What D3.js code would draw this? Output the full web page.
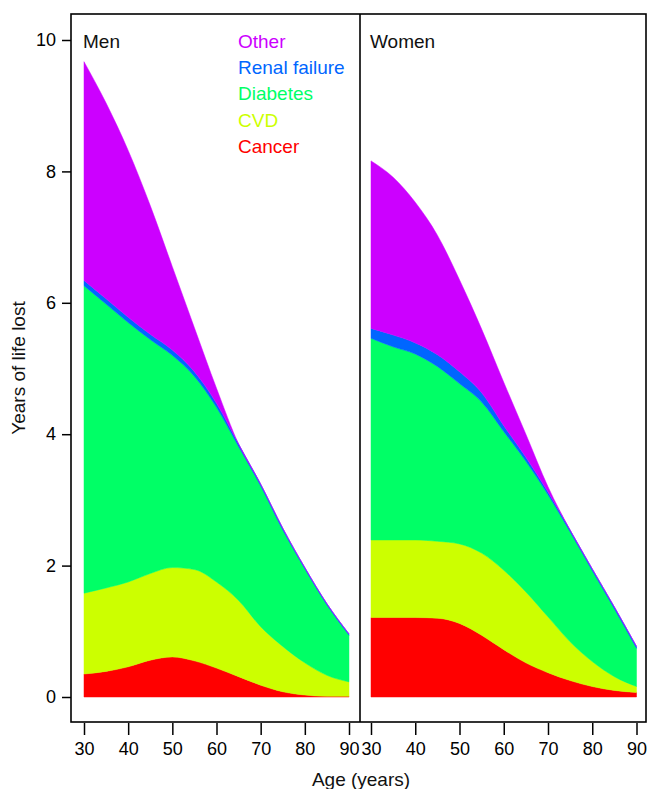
<!DOCTYPE html>
<html>
<head>
<meta charset="utf-8">
<script src="https://cdn.jsdelivr.net/npm/d3@7"></script>
<style>
  body { margin: 0; background: #fff; }
  svg { display: block; font-family: "Liberation Sans", Arial, Helvetica, sans-serif; }
</style>
</head>
<body>
<div id="chart"></div>
<script>
// Years of life lost by cause (5-year age steps)
const ages = [30, 35, 40, 45, 50, 55, 60, 65, 70, 75, 80, 85, 90];
const causes = ["Cancer", "CVD", "Diabetes", "Renal failure", "Other"];

const menCancer   = [0.35, 0.39, 0.46, 0.56, 0.61, 0.55, 0.44, 0.31, 0.18, 0.08, 0.03, 0.01, 0.01];
const menCVD      = [1.23, 1.27, 1.29, 1.32, 1.36, 1.39, 1.31, 1.16, 0.89, 0.69, 0.49, 0.32, 0.22];
const menDiabetes = [4.68, 4.32, 3.95, 3.56, 3.23, 2.94, 2.66, 2.34, 2.14, 1.77, 1.43, 1.07, 0.71];
const menRenal    = [0.08, 0.08, 0.08, 0.08, 0.08, 0.07, 0.06, 0.04, 0.03, 0.03, 0.02, 0.02, 0.02];
const menOther    = [3.33, 2.98, 2.54, 1.96, 1.27, 0.67, 0.23, 0.00, 0.00, 0.00, 0.00, 0.00, 0.00];

const womenCancer   = [1.21, 1.21, 1.21, 1.20, 1.12, 0.94, 0.72, 0.52, 0.37, 0.25, 0.16, 0.10, 0.07];
const womenCVD      = [1.18, 1.18, 1.18, 1.17, 1.21, 1.25, 1.21, 1.08, 0.85, 0.59, 0.38, 0.21, 0.09];
const womenDiabetes = [3.07, 2.94, 2.83, 2.66, 2.44, 2.30, 2.11, 1.99, 1.86, 1.67, 1.38, 1.03, 0.58];
const womenRenal    = [0.15, 0.18, 0.17, 0.18, 0.18, 0.14, 0.09, 0.06, 0.04, 0.03, 0.03, 0.03, 0.03];
const womenOther    = [2.55, 2.40, 2.14, 1.82, 1.40, 0.97, 0.66, 0.35, 0.08, 0.00, 0.00, 0.00, 0.00];

const yTicks = [0, 2, 4, 6, 8, 10];
const xTicks = [30, 40, 50, 60, 70, 80, 90];

// R rainbow(5) palette
const colors = {
  "Cancer": "#FF0000",
  "CVD": "#CCFF00",
  "Diabetes": "#00FF66",
  "Renal failure": "#0066FF",
  "Other": "#CC00FF"
};

const W = 649, H = 789;
const box = { left: 71, right: 646, top: 14, bottom: 722, split: 360 };

const svg = d3.select("#chart").append("svg")
  .attr("width", W)
  .attr("height", H);

const y = d3.scaleLinear().domain([0, 10]).range([697, 40]);

const panels = [
  { label: "Men", range: [84, 349], series: [menCancer, menCVD, menDiabetes, menRenal, menOther] },
  { label: "Women", range: [371, 636.5], series: [womenCancer, womenCVD, womenDiabetes, womenRenal, womenOther] }
];

const stack = d3.stack().keys(causes);

panels.forEach(p => {
  const x = d3.scaleLinear().domain([30, 90]).range(p.range);
  const rows = ages.map((a, i) => {
    const r = { age: a };
    causes.forEach((c, k) => r[c] = p.series[k][i]);
    return r;
  });
  const layers = stack(rows);

  const area = d3.area()
    .x(d => x(d.data.age))
    .y0(d => y(d[0]))
    .y1(d => y(d[1]))
    .curve(d3.curveMonotoneX);

  svg.append("g")
    .selectAll("path")
    .data(layers)
    .join("path")
    .attr("d", area)
    .attr("fill", d => colors[d.key])
    .attr("stroke", d => colors[d.key])
    .attr("stroke-width", 0.5);

  // x axis below the box
  const xAxis = d3.axisBottom(x)
    .tickValues(xTicks)
    .tickFormat(d3.format("d"))
    .tickSize(12)
    .tickPadding(7);
  const gx = svg.append("g")
    .attr("transform", `translate(0,${box.bottom + 1})`)
    .call(xAxis);
  gx.select(".domain").remove();
  gx.selectAll(".tick line").attr("stroke", "#000").attr("stroke-width", 1.5);
  gx.selectAll(".tick text")
    .attr("fill", "#000")
    .style("font-size", "18px");

  svg.append("text")
    .attr("x", p.range[0] - 1)
    .attr("y", 48)
    .attr("fill", "#111")
    .style("font-size", "19px")
    .text(p.label);
});

// y axis
const yAxis = d3.axisLeft(y)
  .tickValues(yTicks)
  .tickFormat(d3.format("d"))
  .tickSize(9)
  .tickPadding(6);
const gy = svg.append("g")
  .attr("transform", `translate(${box.left},0)`)
  .call(yAxis);
gy.select(".domain").remove();
gy.selectAll(".tick line").attr("stroke", "#000").attr("stroke-width", 1.5);
gy.selectAll(".tick text")
  .attr("fill", "#000")
  .style("font-size", "18px");

// frame and panel divider
svg.append("rect")
  .attr("x", box.left)
  .attr("y", box.top)
  .attr("width", box.right - box.left)
  .attr("height", box.bottom - box.top)
  .attr("fill", "none")
  .attr("stroke", "#000")
  .attr("stroke-width", 1.6);

svg.append("line")
  .attr("x1", box.split).attr("x2", box.split)
  .attr("y1", box.top).attr("y2", box.bottom)
  .attr("stroke", "#000")
  .attr("stroke-width", 1.6);

// legend (top to bottom: Other ... Cancer)
svg.append("g")
  .selectAll("text")
  .data(causes.slice().reverse())
  .join("text")
  .attr("x", 238)
  .attr("y", (d, i) => 48 + i * 26.2)
  .attr("fill", d => colors[d])
  .style("font-size", "19px")
  .text(d => d);

// axis titles
svg.append("text")
  .attr("transform", "translate(25,368) rotate(-90)")
  .attr("text-anchor", "middle")
  .attr("fill", "#111")
  .style("font-size", "19px")
  .text("Years of life lost");

svg.append("text")
  .attr("x", 361)
  .attr("y", 786)
  .attr("text-anchor", "middle")
  .attr("fill", "#111")
  .style("font-size", "19px")
  .text("Age (years)");
</script>
</body>
</html>
